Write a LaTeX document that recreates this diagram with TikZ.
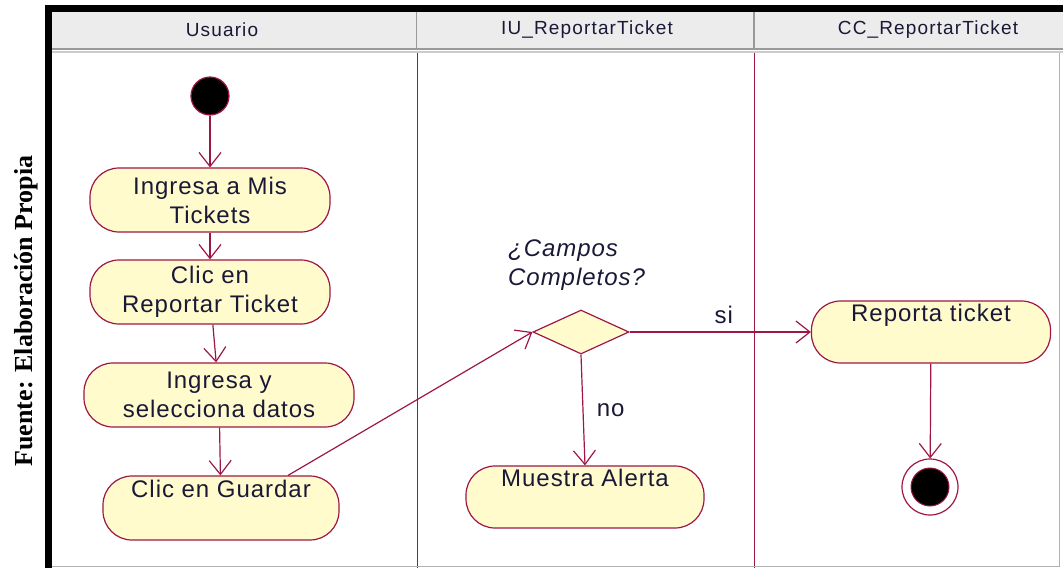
\documentclass[tikz,border=0pt]{standalone}
\usepackage{fontspec}
\setmainfont{Liberation Sans}
\newfontfamily\timesbold{Liberation Serif}
\newfontfamily\rosefont[LetterSpace=4]{Liberation Sans}
\newfontfamily\lanefont[LetterSpace=6]{Liberation Sans}
\usepackage{tikz}
\usetikzlibrary{arrows.meta,shapes.geometric}

\definecolor{rosered}{RGB}{158,22,70}
\definecolor{actfill}{RGB}{255,251,205}
\definecolor{lanehead}{RGB}{236,236,236}
\definecolor{inktext}{RGB}{25,25,55}
\tikzset{
  activity/.style={draw=rosered,fill=actfill,line width=1.2pt,rounded corners=29pt,minimum width=240pt,minimum height=64pt,align=center,text=inktext,font=\rosefont\fontsize{24}{29}\selectfont,inner sep=2pt},
  flow/.style={color=rosered,line width=1.2pt,-{Straight Barb[length=14pt,width=22pt]}},
  guard/.style={text=inktext,font=\rosefont\fontsize{24}{29}\selectfont},
  lanetitle/.style={text=inktext,font=\lanefont\fontsize{19}{22}\selectfont}
}

\begin{document}
\begin{tikzpicture}[x=1pt,y=-1pt]
            \useasboundingbox (0,0) rectangle (1063,568);
            \fill[color=lanehead] (52,12) rectangle (1063,48);
            \draw[color=gray!80,line width=2pt] (52,49) -- (1063,49); \draw[color=gray!40,line width=1.5pt] (52,52) -- (1063,52);
            \draw[color=gray!80,line width=1.5pt] (416.5,12) -- (416.5,50); \draw[color=gray!80,line width=1.5pt] (754,12) -- (754,50);
            \draw[color=rosered,line width=1pt] (417,53) -- (417,568); \draw[color=rosered,line width=1pt] (754,53) -- (754,568);
            \draw[color=gray!60] (1059,53) -- (1059,566) -- (52,566);
            \draw[line width=7pt] (48.5,568) -- (48.5,8.5) -- (1063,8.5);
            \node[lanetitle] (usuario) at (222,30) {Usuario}; \node[lanetitle] (iu) at (587,30) {IU\_ReportarTicket}; \node[lanetitle] (cc) at (928,30) {CC\_ReportarTicket};
            \node[rotate=90,font=\timesbold\bfseries\fontsize{26}{30}\selectfont] (fuente) at (26,311) {Fuente: Elaboración Propia};

            \node[circle,fill=black,draw=rosered,line width=1.2pt,minimum size=38pt,inner sep=0pt] (inicio) at (210,96) {};
            \node[activity] (mis) at (210,200) {Ingresa a Mis\\Tickets};
            \node[activity] (reportar) at (210,292) {Clic en\\Reportar Ticket};
            \node[activity,minimum width=270pt] (datos) at (219,395) {Ingresa y\\selecciona datos};
            \node[activity,minimum width=236pt] (guardar) at (221,508) {Clic en Guardar\\\strut};

            \node[diamond,draw=rosered,fill=actfill,line width=1.2pt,minimum width=96pt,minimum height=44pt,inner sep=0pt] (decision) at (581,332) {};
            \node[guard,font=\rosefont\fontsize{24}{29}\selectfont\itshape,align=left,anchor=north west,inner sep=0pt] (pregunta) at (508,240) {¿Campos\\Completos?};
            \node[activity,minimum width=238pt,minimum height=62pt] (alerta) at (585,497) {Muestra Alerta\\\strut};
            \node[activity,minimum width=239pt,minimum height=62pt] (reporta) at (931,332) {Reporta ticket\\\strut};
            \node[circle,draw=rosered,line width=1.2pt,minimum size=56pt,inner sep=0pt] (fin) at (930,487) {};
            \draw[color=rosered,fill=black,line width=1pt] (fin.center) circle (19);

            \draw[flow] (inicio) -- (mis); \draw[flow] (mis) -- (reportar); \draw[flow] (reportar) -- (datos); \draw[flow] (datos) -- (guardar);
            \draw[flow] ([xshift=67pt]guardar.north) -- (decision.west);
            \draw[flow] (decision.east) -- node[guard,above=4pt,pos=0.52] (si) {si} (reporta.west);
            \draw[flow] (decision.south) -- node[guard,right=10pt,pos=0.5] (no) {no} (alerta.north);
            \draw[flow] (reporta) -- (fin);
\end{tikzpicture}
\end{document}
